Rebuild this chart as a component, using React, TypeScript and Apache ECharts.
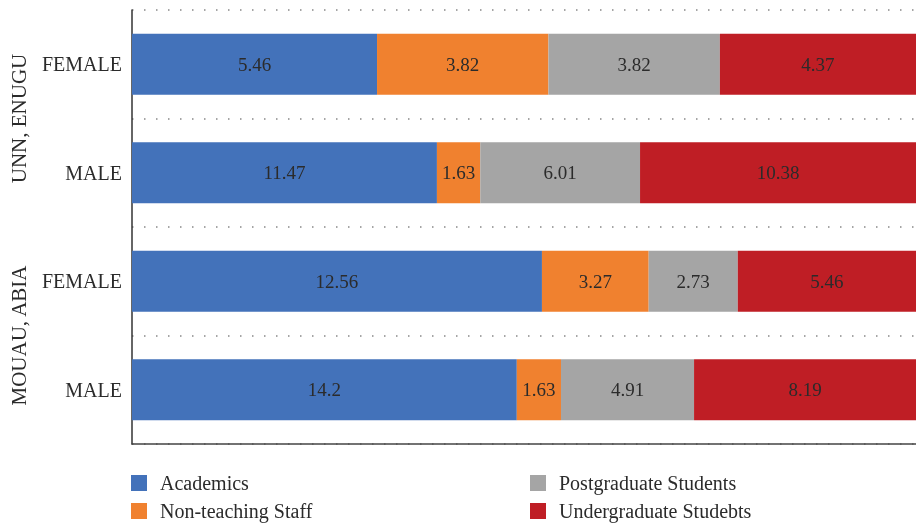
import React, { useEffect, useRef } from "react";
import * as echarts from "echarts";

const rowLabels = ["FEMALE", "MALE", "FEMALE", "MALE"];
const groupLabels = ["UNN, ENUGU", "MOUAU, ABIA"];
const seriesNames = ["Academics", "Non-teaching Staff", "Postgraduate Students", "Undergraduate Studebts"];
const academics = [5.46, 11.47, 12.56, 14.2];
const nonTeaching = [3.82, 1.63, 3.27, 1.63];
const postgraduate = [3.82, 6.01, 2.73, 4.91];
const undergraduate = [4.37, 10.38, 5.46, 8.19];
const colors = ["#4372BA", "#F0812F", "#A5A5A5", "#BF1E25"];

const FONT = "'Liberation Serif', 'DejaVu Serif', serif";

export default function App() {
  const ref = useRef<HTMLDivElement>(null);
  useEffect(() => {
    if (!ref.current) return;
    const chart = echarts.init(ref.current, undefined, { renderer: "svg" });
    const all = [academics, nonTeaching, postgraduate, undergraduate];
    const totals = rowLabels.map((_, i) => all.reduce((s, a) => s + a[i], 0));
    const series = all.map((arr, si) => ({
      name: seriesNames[si],
      type: "bar",
      stack: "total",
      barWidth: 61,
      itemStyle: { color: colors[si] },
      label: {
        show: true,
        position: "inside",
        color: "#2b2b2b",
        fontFamily: FONT,
        fontSize: 19,
        formatter: (p: any) => String(arr[p.dataIndex]),
      },
      data: arr.map((v, i) => (v / totals[i]) * 100),
    }));
    const legendPos = [
      { left: 131, top: 473 },
      { left: 131, top: 501 },
      { left: 530, top: 473 },
      { left: 530, top: 501 },
    ];
    const legends = seriesNames.map((name, i) => ({
      data: [name],
      ...legendPos[i],
      padding: 0,
      itemWidth: 16,
      itemHeight: 16,
      icon: "rect",
      textStyle: {
        fontFamily: FONT,
        fontSize: 20,
        color: "#2b2b2b",
        padding: [0, 0, 0, 8],
      },
    }));
    chart.setOption({
      animation: false,
      textStyle: { fontFamily: FONT },
      grid: { left: 132, right: 0, top: 10, bottom: 79, containLabel: false },
      legend: legends,
      xAxis: {
        type: "value",
        min: 0,
        max: 100,
        axisLabel: { show: false },
        axisTick: { show: false },
        splitLine: { show: false },
        axisLine: { show: true, lineStyle: { color: "#444", width: 1.5 } },
      },
      yAxis: [
        {
          type: "category",
          data: rowLabels,
          inverse: true,
          axisLine: { show: true, lineStyle: { color: "#333", width: 1.5 } },
          axisTick: { show: false },
          axisLabel: { color: "#2b2b2b", fontSize: 20, fontFamily: FONT, margin: 10 },
          splitLine: {
            show: true,
            lineStyle: { color: "#888", width: 1.5, type: [1.5, 10.5] },
          },
        },
        {
          type: "category",
          data: groupLabels,
          inverse: true,
          position: "left",
          axisLine: { show: false },
          axisTick: { show: false },
          splitLine: { show: false },
          axisLabel: { color: "#2b2b2b", fontSize: 21, fontFamily: FONT, margin: 103, rotate: 90 },
        },
      ],
      series,
    });
    return () => chart.dispose();
  }, []);
  return (
    <div
      ref={ref}
      style={{ position: "fixed", left: 0, top: 0, width: 916, height: 523 }}
    />
  );
}
